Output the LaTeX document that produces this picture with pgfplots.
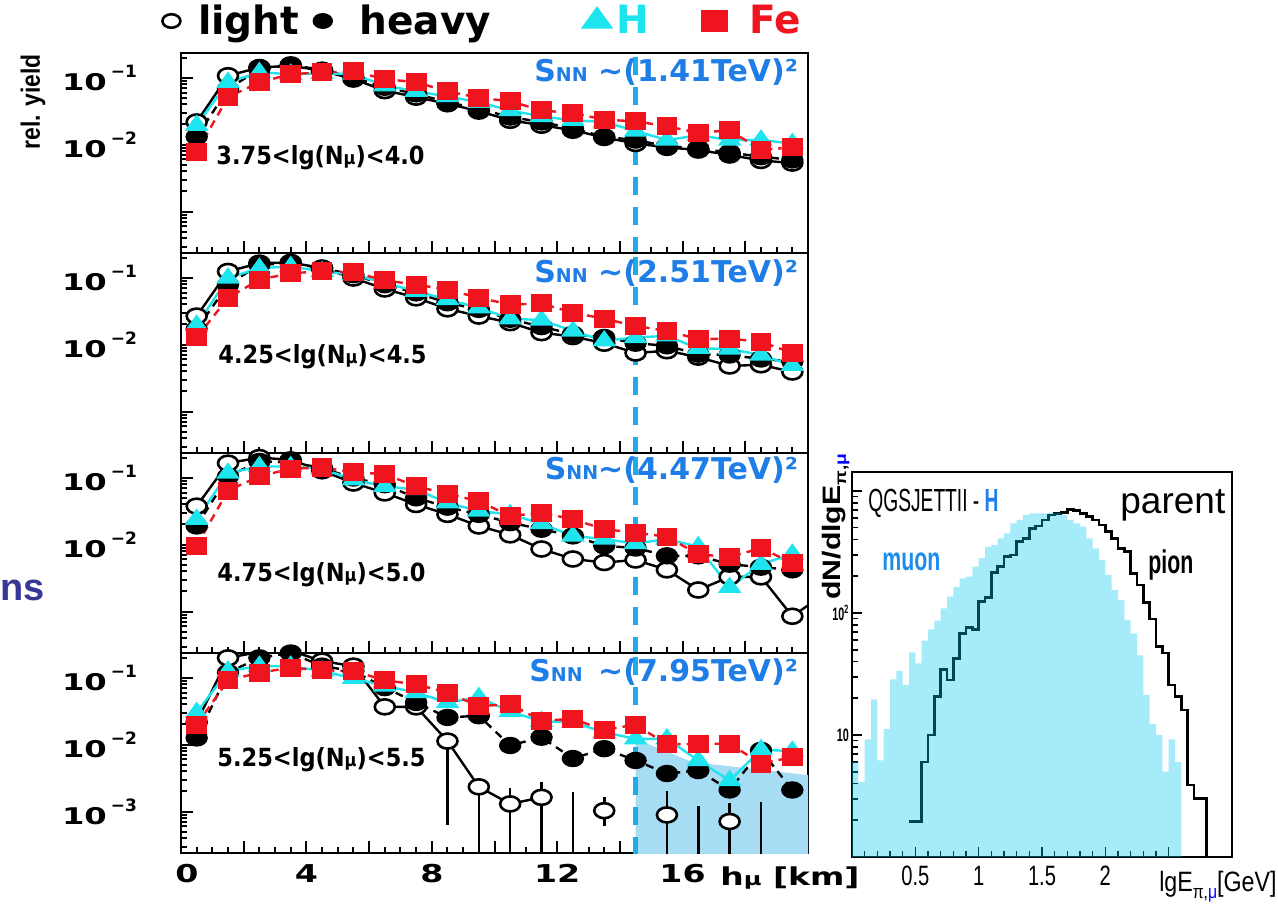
\documentclass[border=0pt]{standalone}
\usepackage{fontspec}
\setmainfont{DejaVu Sans}
\newfontfamily\arial{Liberation Sans}
\usepackage{graphicx}
\usepackage{pgfplots}
\pgfplotsset{compat=1.18}

\definecolor{hcol}{RGB}{30,228,238}
\definecolor{fecol}{RGB}{240,20,30}
\definecolor{snn}{RGB}{30,125,230}
\definecolor{vlinec}{RGB}{30,172,232}
\definecolor{shadec}{RGB}{166,220,244}
\definecolor{muonc}{RGB}{0,198,240}
\definecolor{nsblue}{RGB}{55,55,150}
\definecolor{mublue}{RGB}{30,140,235}

% tick labels
\newcommand\tlab[1]{\scalebox{1.4}[1]{10}\hspace{2pt}\raisebox{0.55em}{\fontsize{8.5}{9}\selectfont #1}}
\newcommand\xlab[1]{\scalebox{1.35}[1]{#1}}
\newcommand\rxlab[1]{\scalebox{0.72}[1]{#1}}
\newcommand\rylab[1]{\scalebox{0.6}[1]{#1}}
\newcommand\mus{{\fontsize{9}{9}\selectfont μ}}

\pgfplotsset{
  sLight/.style={black, line width=1.2pt, mark=*, mark size=5pt,
    mark options={solid, fill=white, draw=black, line width=1.3pt, yscale=0.75}},
  sHeavy/.style={black, line width=1.2pt, dash pattern=on 4pt off 3pt, mark=*, mark size=5pt,
    mark options={solid, yscale=0.75}},
  sH/.style={hcol, line width=1.2pt, mark=triangle*, mark size=5.5pt,
    mark options={solid, yscale=0.8}},
  sFe/.style={fecol, line width=1.2pt, dash pattern=on 4pt off 3pt, mark=square*, mark size=4.6pt,
    mark options={solid, yscale=0.85}},
  sV/.style={vlinec, line width=2.5pt, dash pattern=on 9pt off 6pt},
}

\begin{document}
\begin{tikzpicture}
\useasboundingbox (0,0) rectangle (639pt,453.5pt);

% ---------- panel 1
\begin{axis}[at={(90.5pt,327pt)}, anchor=south west,
  scale only axis, width=313.5pt, height=100pt,
  xmin=0, xmax=20, ymode=log, ymin=2.4e-4, ymax=0.234,
  axis line style={line width=1.2pt},
  tick align=inside, xtick pos=left, ytick pos=left,
  xtick={0,2,...,20}, minor x tick num=3,
  ytick={1e-3,1e-2,1e-1},
  minor ytick={3e-4,4e-4,5e-4,6e-4,7e-4,8e-4,9e-4,2e-3,3e-3,4e-3,5e-3,6e-3,7e-3,8e-3,9e-3,2e-2,3e-2,4e-2,5e-2,6e-2,7e-2,8e-2,9e-2,2e-1},
  major tick length=6pt, minor tick length=3pt,
  every tick/.append style={black, line width=1pt},
  xticklabels={},
  yticklabels={,\tlab{−2},\tlab{−1}},
  yticklabel style={font=\fontsize{11.5}{12}\selectfont\bfseries, xshift=-18.5pt},
  legend style={draw=none, fill=none, at={(-0.0303,1.16)}, anchor=west,
    legend columns=4, inner sep=0pt,
    font=\fontsize{19.5}{20}\selectfont\bfseries},
  legend cell align=left]
\addplot[sLight, legend image post style={only marks, mark size=4.5pt}] coordinates {(0.5,0.0218) (1.5,0.107) (2.5,0.142) (3.5,0.151) (4.5,0.127) (5.5,0.0955) (6.5,0.0642) (7.5,0.0512) (8.5,0.0408) (9.5,0.0317) (10.5,0.0231) (11.5,0.0195) (12.5,0.0164) (13.5,0.0128) (14.5,0.0104) (15.5,0.0091) (16.5,0.0083) (17.5,0.0070) (18.5,0.0058) (19.5,0.0053)};
\addplot[sHeavy, legend image post style={only marks, mark size=4.5pt}] coordinates {(0.5,0.0131) (1.5,0.0679) (2.5,0.134) (3.5,0.156) (4.5,0.130) (5.5,0.101) (6.5,0.0719) (7.5,0.0573) (8.5,0.0431) (9.5,0.0343) (10.5,0.0258) (11.5,0.0218) (12.5,0.0174) (13.5,0.0131) (14.5,0.0117) (15.5,0.0095) (16.5,0.0088) (17.5,0.0076) (18.5,0.0066) (19.5,0.0059)};
\addplot[sH, legend image post style={only marks, mark size=8pt}] coordinates {(0.5,0.0195) (1.5,0.0853) (2.5,0.120) (3.5,0.113) (4.5,0.116) (5.5,0.113) (6.5,0.0760) (7.5,0.0628) (8.5,0.0524) (9.5,0.0431) (10.5,0.0324) (11.5,0.0264) (12.5,0.0231) (13.5,0.0218) (14.5,0.0160) (15.5,0.0117) (16.5,0.0138) (17.5,0.0117) (18.5,0.0117) (19.5,0.0104)};
\addplot[sFe, legend image post style={only marks, mark size=6pt}] coordinates {(0.5,0.0078) (1.5,0.0512) (2.5,0.0853) (3.5,0.113) (4.5,0.120) (5.5,0.124) (6.5,0.0955) (7.5,0.0853) (8.5,0.0628) (9.5,0.0500) (10.5,0.0446) (11.5,0.0324) (12.5,0.0296) (13.5,0.0236) (14.5,0.0223) (15.5,0.0188) (16.5,0.0150) (17.5,0.0164) (18.5,0.0083) (19.5,0.0091)};
\addplot[sV, forget plot] coordinates {(14.5,1e-5) (14.5,1)};
\legend{\makebox[62.7pt][l]{\hspace{6.85pt}light},
        \makebox[121.7pt][l]{\hspace{11.85pt}heavy},
        \makebox[41.7pt][l]{\hspace{0.85pt}\textcolor{hcol}{H}},
        \hspace{9.35pt}\textcolor{fecol}{Fe}}
\end{axis}

% ---------- panel 2
\begin{axis}[at={(90.5pt,227pt)}, anchor=south west,
  scale only axis, width=313.5pt, height=100pt,
  xmin=0, xmax=20, ymode=log, ymin=2.4e-4, ymax=0.234,
  axis line style={line width=1.2pt},
  tick align=inside, xtick pos=left, ytick pos=left,
  xtick={0,2,...,20}, minor x tick num=3,
  ytick={1e-3,1e-2,1e-1},
  minor ytick={3e-4,4e-4,5e-4,6e-4,7e-4,8e-4,9e-4,2e-3,3e-3,4e-3,5e-3,6e-3,7e-3,8e-3,9e-3,2e-2,3e-2,4e-2,5e-2,6e-2,7e-2,8e-2,9e-2,2e-1},
  major tick length=6pt, minor tick length=3pt,
  every tick/.append style={black, line width=1pt},
  xticklabels={},
  yticklabels={,\tlab{−2},\tlab{−1}},
  yticklabel style={font=\fontsize{11.5}{12}\selectfont\bfseries, xshift=-18.5pt}]
\addplot[sLight] coordinates {(0.5,0.0267) (1.5,0.124) (2.5,0.165) (3.5,0.169) (4.5,0.139) (5.5,0.0989) (6.5,0.0679) (7.5,0.0500) (8.5,0.0343) (9.5,0.0267) (10.5,0.0213) (11.5,0.0151) (12.5,0.0132) (13.5,0.0105) (14.5,0.0075) (15.5,0.0081) (16.5,0.0065) (17.5,0.0048) (18.5,0.0050) (19.5,0.0039)};
\addplot[sHeavy] coordinates {(0.5,0.0170) (1.5,0.0787) (2.5,0.156) (3.5,0.165) (4.5,0.139) (5.5,0.111) (6.5,0.0787) (7.5,0.0593) (8.5,0.0422) (9.5,0.0336) (10.5,0.0239) (11.5,0.0186) (12.5,0.0143) (13.5,0.0128) (14.5,0.0105) (15.5,0.0096) (16.5,0.0072) (17.5,0.0070) (18.5,0.0061) (19.5,0.0056)};
\addplot[sH] coordinates {(0.5,0.0195) (1.5,0.0989) (2.5,0.139) (3.5,0.147) (4.5,0.124) (5.5,0.111) (6.5,0.0834) (7.5,0.0628) (8.5,0.0472) (9.5,0.0356) (10.5,0.0244) (11.5,0.0233) (12.5,0.0160) (13.5,0.0114) (14.5,0.0128) (15.5,0.0135) (16.5,0.0088) (17.5,0.0086) (18.5,0.0070) (19.5,0.0049)};
\addplot[sFe] coordinates {(0.5,0.0128) (1.5,0.0500) (2.5,0.0934) (3.5,0.117) (4.5,0.124) (5.5,0.120) (6.5,0.0913) (7.5,0.0787) (8.5,0.0664) (9.5,0.0500) (10.5,0.0398) (11.5,0.0412) (12.5,0.0300) (13.5,0.0244) (14.5,0.0190) (15.5,0.0160) (16.5,0.0121) (17.5,0.0123) (18.5,0.0110) (19.5,0.0075)};
\addplot[sV] coordinates {(14.5,1e-5) (14.5,1)};
\end{axis}

% ---------- panel 3
\begin{axis}[at={(90.5pt,127pt)}, anchor=south west,
  scale only axis, width=313.5pt, height=100pt,
  xmin=0, xmax=20, ymode=log, ymin=2.4e-4, ymax=0.234,
  axis line style={line width=1.2pt},
  tick align=inside, xtick pos=left, ytick pos=left,
  xtick={0,2,...,20}, minor x tick num=3,
  ytick={1e-3,1e-2,1e-1},
  minor ytick={3e-4,4e-4,5e-4,6e-4,7e-4,8e-4,9e-4,2e-3,3e-3,4e-3,5e-3,6e-3,7e-3,8e-3,9e-3,2e-2,3e-2,4e-2,5e-2,6e-2,7e-2,8e-2,9e-2,2e-1},
  major tick length=6pt, minor tick length=3pt,
  every tick/.append style={black, line width=1pt},
  xticklabels={},
  yticklabels={,\tlab{−2},\tlab{−1}},
  yticklabel style={font=\fontsize{11.5}{12}\selectfont\bfseries, xshift=-18.5pt}]
\addplot[sLight] coordinates {(0.5,0.0376) (1.5,0.165) (2.5,0.200) (3.5,0.185) (4.5,0.127) (5.5,0.0834) (6.5,0.0593) (7.5,0.0398) (8.5,0.0283) (9.5,0.0190) (10.5,0.0140) (11.5,0.0086) (12.5,0.0061) (13.5,0.0054) (14.5,0.0059) (15.5,0.0042) (16.5,0.0021) (17.5,0.0033) (18.5,0.0033) (19.5,0.00085) (20.5,0.0018)};
\addplot[sHeavy] coordinates {(0.5,0.0190) (1.5,0.105) (2.5,0.175) (3.5,0.171) (4.5,0.139) (5.5,0.0989) (6.5,0.0787) (7.5,0.0500) (8.5,0.0363) (9.5,0.0283) (10.5,0.0213) (11.5,0.0170) (12.5,0.0135) (13.5,0.0096) (14.5,0.0089) (15.5,0.0068) (16.5,0.0068) (17.5,0.0051) (18.5,0.0046) (19.5,0.0042)};
\addplot[sH] coordinates {(0.5,0.0239) (1.5,0.117) (2.5,0.147) (3.5,0.147) (4.5,0.136) (5.5,0.0934) (6.5,0.0744) (7.5,0.0664) (8.5,0.0422) (9.5,0.0317) (10.5,0.0283) (11.5,0.0206) (12.5,0.0135) (13.5,0.0121) (14.5,0.0104) (15.5,0.0121) (16.5,0.0093) (17.5,0.0023) (18.5,0.0051) (19.5,0.0072)};
\addplot[sFe] coordinates {(0.5,0.0096) (1.5,0.0642) (2.5,0.105) (3.5,0.136) (4.5,0.142) (5.5,0.121) (6.5,0.113) (7.5,0.0744) (8.5,0.0573) (9.5,0.0446) (10.5,0.0267) (11.5,0.0300) (12.5,0.0239) (13.5,0.0170) (14.5,0.0151) (15.5,0.0131) (16.5,0.0072) (17.5,0.0065) (18.5,0.0089) (19.5,0.0053)};
\addplot[sV] coordinates {(14.5,1e-5) (14.5,1)};
\end{axis}

% ---------- panel 4
\begin{axis}[at={(90.5pt,27pt)}, anchor=south west,
  scale only axis, width=313.5pt, height=100pt,
  xmin=0, xmax=20, ymode=log, ymin=2.4e-4, ymax=0.234,
  axis line style={line width=1.2pt},
  tick align=inside, xtick pos=left, ytick pos=left,
  xtick={0,2,...,20}, minor x tick num=3,
  ytick={1e-3,1e-2,1e-1},
  minor ytick={3e-4,4e-4,5e-4,6e-4,7e-4,8e-4,9e-4,2e-3,3e-3,4e-3,5e-3,6e-3,7e-3,8e-3,9e-3,2e-2,3e-2,4e-2,5e-2,6e-2,7e-2,8e-2,9e-2,2e-1},
  major tick length=6pt, minor tick length=3pt,
  every tick/.append style={black, line width=1pt},
  yticklabels={\tlab{−3},\tlab{−2},\tlab{−1}},
  yticklabel style={font=\fontsize{11.5}{12}\selectfont\bfseries, xshift=-18.5pt},
  xticklabels={\hspace{6pt}\xlab{0},,\xlab{4},,\xlab{8},,\xlab{12}\hspace{7pt},,\xlab{16}\hspace{22pt},,},
  xticklabel style={font=\fontsize{12.3}{13}\selectfont\bfseries, yshift=-2pt},
  unbounded coords=jump]
\addplot[fill=shadec, draw=none] coordinates {(14.5,1e-4) (14.5,0.0122) (16.3,0.0055) (20,0.0035) (20,1e-4)};
\addplot[black, line width=1.3pt] coordinates {(8.5,0.00063) (8.5,0.0113) (8.5,nan) (9.5,1e-5) (9.5,0.00234) (9.5,nan) (10.5,1e-5) (10.5,0.00222) (10.5,nan) (11.5,1e-5) (11.5,0.00278) (11.5,nan) (12.5,1e-5) (12.5,0.00198) (12.5,nan) (13.5,0.0006) (13.5,0.00167) (13.5,nan) (15.5,1e-5) (15.5,0.00205) (15.5,nan) (16.5,1e-5) (16.5,0.00119) (16.5,nan) (17.5,1e-5) (17.5,0.00133) (17.5,nan) (18.5,1e-5) (18.5,0.00141)};
\addplot[sLight] coordinates {(0.5,0.0216) (1.5,0.198) (2.5,0.243) (3.5,0.254) (4.5,0.177) (5.5,0.149) (6.5,0.0367) (7.5,0.0367) (8.5,0.0113) (9.5,0.00234) (10.5,0.0013) (11.5,0.00163)};
\addplot[sLight, only marks] coordinates {(13.5,0.00103) (15.5,0.00089) (17.5,0.00071)};
\addplot[sHeavy] coordinates {(0.5,0.0126) (1.5,0.119) (2.5,0.198) (3.5,0.234) (4.5,0.149) (5.5,0.126) (6.5,0.0711) (7.5,0.0427) (8.5,0.0255) (9.5,0.0270) (10.5,0.0097) (11.5,0.0129) (12.5,0.0062) (13.5,0.0087) (14.5,0.0058) (15.5,0.0037) (16.5,0.0041) (17.5,0.0021) (18.5,0.0082) (19.5,0.0021)};
\addplot[sH] coordinates {(0.5,0.0303) (1.5,0.126) (2.5,0.149) (3.5,0.149) (4.5,0.126) (5.5,0.0977) (6.5,0.0753) (7.5,0.0600) (8.5,0.0427) (9.5,0.0506) (10.5,0.0313) (11.5,0.0223) (12.5,0.0216) (13.5,0.0153) (14.5,0.0122) (15.5,0.0122) (16.5,0.0058) (17.5,0.0029) (18.5,0.0084) (19.5,0.0080)};
\addplot[sFe] coordinates {(0.5,0.0199) (1.5,0.0913) (2.5,0.119) (3.5,0.141) (4.5,0.129) (5.5,0.126) (6.5,0.0913) (7.5,0.0796) (8.5,0.0600) (9.5,0.0375) (10.5,0.0403) (11.5,0.0228) (12.5,0.0242) (13.5,0.0166) (14.5,0.0199) (15.5,0.0101) (16.5,0.0103) (17.5,0.0103) (18.5,0.0052) (19.5,0.0065)};
\addplot[sV] coordinates {(14.5,1e-5) (14.5,1)};
\end{axis}

% ---------- right panel: energy spectra
\begin{axis}[at={(426pt,25pt)}, anchor=south west,
  scale only axis, width=190pt, height=192.5pt,
  xmin=0, xmax=3, ymode=log, ymin=1, ymax=1430,
  axis line style={line width=1.2pt},
  tick align=inside, xtick pos=left, ytick pos=left,
  xtick={0,0.5,1,1.5,2,2.5}, minor x tick num=4,
  xticklabels={,\rxlab{0.5},\rxlab{1},\rxlab{1.5},\rxlab{2},},
  xticklabel style={font=\arial\fontsize{14}{14}\selectfont, yshift=-1pt},
  ytick={10,100,1000},
  minor ytick={2,3,4,5,6,7,8,9,20,30,40,50,60,70,80,90,200,300,400,500,600,700,800,900},
  yticklabels={\rylab{10},\rylab{10\textsuperscript{2}},},
  yticklabel style={font=\arial\bfseries\fontsize{9}{9}\selectfont, xshift=2pt},
  major tick length=5pt, minor tick length=3pt,
  every tick/.append style={black, line width=0.8pt}]
\addplot[const plot, black, line width=1.3pt] coordinates {(0.45,1.95) (0.50,1.95) (0.55,6.0) (0.60,10) (0.65,20.6) (0.70,34.5) (0.75,28.2) (0.80,42.5) (0.85,68) (0.90,76) (0.95,73) (1.00,124) (1.05,134) (1.10,214) (1.15,240) (1.20,290) (1.25,299) (1.30,384) (1.35,409) (1.40,494) (1.45,517) (1.50,579) (1.55,636) (1.60,656) (1.65,664) (1.70,707) (1.75,690) (1.80,656) (1.85,616) (1.90,579) (1.95,527) (2.00,464) (2.05,409) (2.10,339) (2.15,318) (2.20,211) (2.25,170) (2.30,122) (2.35,89) (2.40,53) (2.45,47) (2.50,25.7) (2.55,20.6) (2.60,16.0) (2.65,3.9) (2.70,3.0) (2.75,3.0) (2.80,1)};
\addplot[const plot, draw=none, fill=muonc, fill opacity=0.35] coordinates {(0,1) (0,6.0) (0.05,4.1) (0.10,9.2) (0.15,19.6) (0.20,6.2) (0.25,11.2) (0.30,28.6) (0.35,33.5) (0.40,25.7) (0.45,47.6) (0.50,38.6) (0.55,59.3) (0.60,73.5) (0.65,86.5) (0.70,109) (0.75,136) (0.80,164) (0.85,192) (0.90,199) (0.95,240) (1.00,281) (1.05,350) (1.10,361) (1.15,409) (1.20,450) (1.25,543) (1.30,579) (1.35,636) (1.40,656) (1.45,656) (1.50,656) (1.55,664) (1.60,664) (1.65,636) (1.70,579) (1.75,543) (1.80,511) (1.85,409) (1.90,339) (1.95,272) (2.00,205) (2.05,154) (2.10,128) (2.15,88) (2.20,68) (2.25,45) (2.30,21.3) (2.35,12.3) (2.40,10) (2.45,5.0) (2.50,9.2) (2.55,6.0) (2.60,6.0) (2.60,1)};
\end{axis}

% ---------- texts (coordinates in image pixels, y measured upward)
\begin{scope}[x=0.5pt, y=0.5pt]
\node[rotate=90, inner sep=0pt] at (33,805) {\scalebox{0.86}[1]{\arial\bfseries\fontsize{13.3}{14}\selectfont rel. yield}};
\node[anchor=east, inner sep=0pt, text=nsblue] at (45,317) {\arial\bfseries\fontsize{19}{19}\selectfont ns};
\node[anchor=west, inner sep=0pt] at (216,749) {\scalebox{0.9}[1]{\fontsize{12.5}{13}\selectfont\bfseries 3.75<lg(N\mus)<4.0}};
\node[anchor=west, inner sep=0pt] at (218,550) {\scalebox{0.9}[1]{\fontsize{12.5}{13}\selectfont\bfseries 4.25<lg(N\mus)<4.5}};
\node[anchor=west, inner sep=0pt] at (217,332) {\scalebox{0.9}[1]{\fontsize{12.5}{13}\selectfont\bfseries 4.75<lg(N\mus)<5.0}};
\node[anchor=west, inner sep=0pt] at (217,147) {\scalebox{0.9}[1]{\fontsize{12.5}{13}\selectfont\bfseries 5.25<lg(N\mus)<5.5}};
\node[anchor=east, text=snn, font=\bfseries] at (805,835) {{\fontsize{15}{15}\selectfont S}{\fontsize{9.5}{10}\selectfont NN}\fontsize{15}{15}\selectfont\ ∼(1.41TeV)²};
\node[anchor=east, text=snn, font=\bfseries] at (805,634) {{\fontsize{15}{15}\selectfont S}{\fontsize{9.5}{10}\selectfont NN}\fontsize{15}{15}\selectfont\ ∼(2.51TeV)²};
\node[anchor=east, text=snn, font=\bfseries] at (805,437) {{\fontsize{15}{15}\selectfont S}{\fontsize{9.5}{10}\selectfont NN}\fontsize{15}{15}\selectfont ∼(4.47TeV)²};
\node[anchor=east, text=snn, font=\bfseries] at (805,235) {{\fontsize{15}{15}\selectfont S}{\fontsize{9.5}{10}\selectfont NN}\fontsize{15}{15}\selectfont\ \,∼(7.95TeV)²};
\node[anchor=base west, inner sep=0pt, font=\fontsize{12.3}{13}\selectfont\bfseries] at (720,22) {\scalebox{1.34}[1]{h\mus\ [km]}};
% right panel texts
\node[anchor=west, inner sep=0pt] at (868,404) {\scalebox{0.6}[1]{\arial\fontsize{16}{16}\selectfont QGSJETTII - \textcolor{snn}{\bfseries H}}};
\node[anchor=base west, inner sep=0pt] at (1120,394) {\arial\fontsize{18.5}{19}\selectfont parent};
\node[anchor=base west, inner sep=0pt] at (1148,334) {\scalebox{0.65}[1]{\arial\bfseries\fontsize{16.4}{17}\selectfont pion}};
\node[anchor=base west, inner sep=0pt, text=mublue] at (882,337) {\scalebox{0.65}[1]{\arial\bfseries\fontsize{16.4}{17}\selectfont muon}};
\node[rotate=90, anchor=west, inner sep=0pt] at (836,307) {\scalebox{1.2}[1]{\arial\bfseries\fontsize{12.6}{13}\selectfont dN/dlgE\raisebox{-0.2em}{\fontsize{8}{8}\selectfont π,\textcolor{blue}{μ}}}};
\node[anchor=east, inner sep=0pt] at (1277,20) {\scalebox{0.83}[1]{\arial\fontsize{14}{14}\selectfont lgE\raisebox{-0.25em}{\fontsize{9.5}{10}\selectfont π,\textcolor{blue}{μ}}[GeV]}};
\end{scope}
\end{tikzpicture}
\end{document}
